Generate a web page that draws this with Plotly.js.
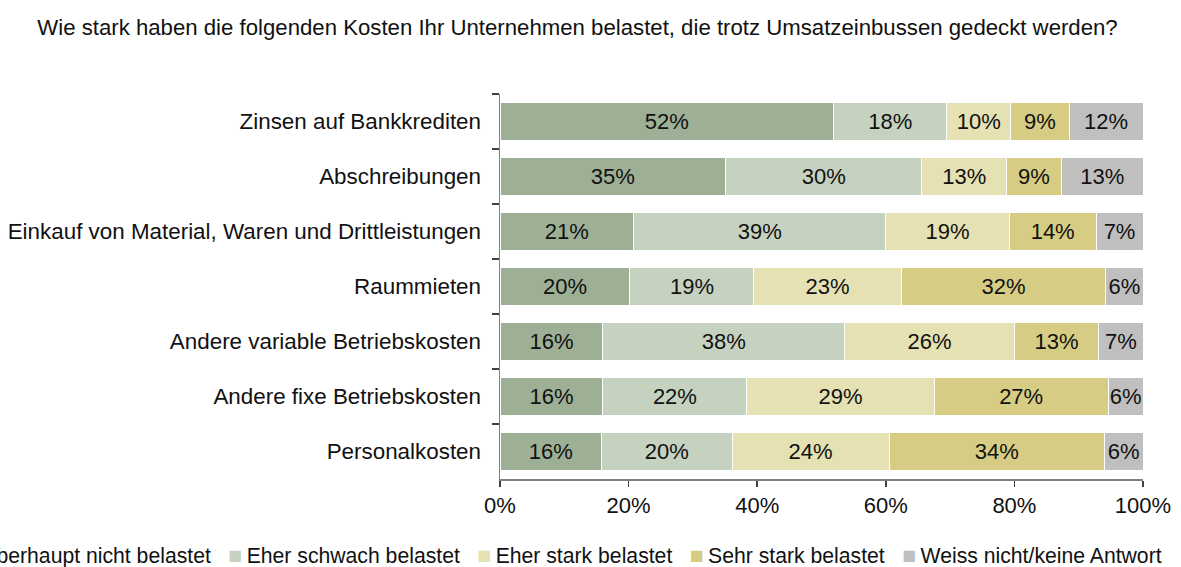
<!DOCTYPE html>
<html>
<head>
<meta charset="utf-8">
<script src="https://cdn.plot.ly/plotly-3.0.1.min.js"></script>
<style>html,body{margin:0;padding:0;background:#fff;}#chart{width:1181px;height:567px;}</style>
</head>
<body>
<div id="chart"></div>
<script>
const categories = [
  "Zinsen auf Bankkrediten",
  "Abschreibungen",
  "Einkauf von Material, Waren und Drittleistungen",
  "Raummieten",
  "Andere variable Betriebskosten",
  "Andere fixe Betriebskosten",
  "Personalkosten"
];
const seriesNames = [
  "Überhaupt nicht belastet",
  "Eher schwach belastet",
  "Eher stark belastet",
  "Sehr stark belastet",
  "Weiss nicht/keine Antwort"
];
const ueberhauptNicht = [51.9, 35.1, 20.8, 20.2, 16.0, 16.0, 15.8];
const eherSchwach     = [17.6, 30.5, 39.2, 19.3, 37.6, 22.4, 20.3];
const eherStark       = [ 9.9, 13.2, 19.2, 22.9, 26.4, 29.1, 24.4];
const sehrStark       = [ 9.1,  8.5, 13.5, 31.8, 13.1, 27.1, 33.5];
const weissNicht      = [11.5, 12.7,  7.3,  5.8,  6.9,  5.4,  6.0];
const labelsUeberhauptNicht = ["52%","35%","21%","20%","16%","16%","16%"];
const labelsEherSchwach     = ["18%","30%","39%","19%","38%","22%","20%"];
const labelsEherStark       = ["10%","13%","19%","23%","26%","29%","24%"];
const labelsSehrStark       = ["9%","9%","14%","32%","13%","27%","34%"];
const labelsWeissNicht      = ["12%","13%","7%","6%","7%","6%","6%"];
const xTickVals = [0, 20, 40, 60, 80, 100];

const colors = ["#9DB095", "#C6D2C0", "#E5E1B3", "#D6CC83", "#BFBFBF"];
const values = [ueberhauptNicht, eherSchwach, eherStark, sehrStark, weissNicht];
const labels = [labelsUeberhauptNicht, labelsEherSchwach, labelsEherStark, labelsSehrStark, labelsWeissNicht];

const FONT = "Liberation Sans, Arial, sans-serif";
const FS = 22;

const traces = values.map((v, i) => ({
  type: "bar",
  orientation: "h",
  name: seriesNames[i],
  y: categories,
  x: v,
  text: labels[i],
  textposition: "inside",
  insidetextanchor: "middle",
  textangle: 0,
  constraintext: "none",
  textfont: {family: FONT, size: FS, color: "#111"},
  marker: {color: colors[i], line: {color: "#ffffff", width: 1}},
  hoverinfo: "skip",
  showlegend: false
}));

const legendText = seriesNames.map((n, i) =>
  '<span style="color:' + colors[i] + ';font-size:23px">\u25A0</span>\u2009' + n
).join('\u00A0\u00A0\u00A0');

const layout = {
  width: 1181,
  height: 567,
  paper_bgcolor: "#ffffff",
  plot_bgcolor: "#ffffff",
  barmode: "stack",
  bargap: 0.32,
  margin: {l: 500, r: 38, t: 94, b: 88},
  font: {family: FONT, size: FS, color: "#111"},
  uniformtext: {minsize: FS, mode: "show"},
  title: {
    text: "Wie stark haben die folgenden Kosten Ihr Unternehmen belastet, die trotz Umsatzeinbussen gedeckt werden?",
    font: {family: FONT, size: 22.2, color: "#111"},
    xref: "container", x: 0.489, xanchor: "center",
    yref: "container", y: 0.952, yanchor: "middle"
  },
  xaxis: {
    range: [0, 100],
    tickvals: xTickVals,
    ticktext: xTickVals.map(v => v + "%"),
    showgrid: false,
    zeroline: false,
    showline: true,
    linecolor: "#7f7f7f",
    linewidth: 1.5,
    ticks: "outside",
    ticklen: 6,
    tickcolor: "#404040",
    tickwidth: 1.5,
    tickfont: {family: FONT, size: FS, color: "#111"},
    fixedrange: true
  },
  yaxis: {
    type: "category",
    autorange: "reversed",
    showgrid: false,
    zeroline: false,
    showline: true,
    linecolor: "#7f7f7f",
    linewidth: 1.5,
    ticks: "outside",
    tickson: "boundaries",
    ticklen: 7,
    tickcolor: "#404040",
    tickwidth: 1.5,
    ticklabelstandoff: 13,
    tickfont: {family: FONT, size: 22.4, color: "#111"},
    fixedrange: true
  },
  annotations: [{
    text: legendText,
    xref: "paper", yref: "paper",
    x: 1.032, xanchor: "right",
    y: -0.198, yanchor: "middle",
    showarrow: false,
    font: {family: FONT, size: 21.2, color: "#111"}
  }],
  showlegend: false
};

Plotly.newPlot("chart", traces, layout, {displayModeBar: false, staticPlot: true});
</script>
</body>
</html>
